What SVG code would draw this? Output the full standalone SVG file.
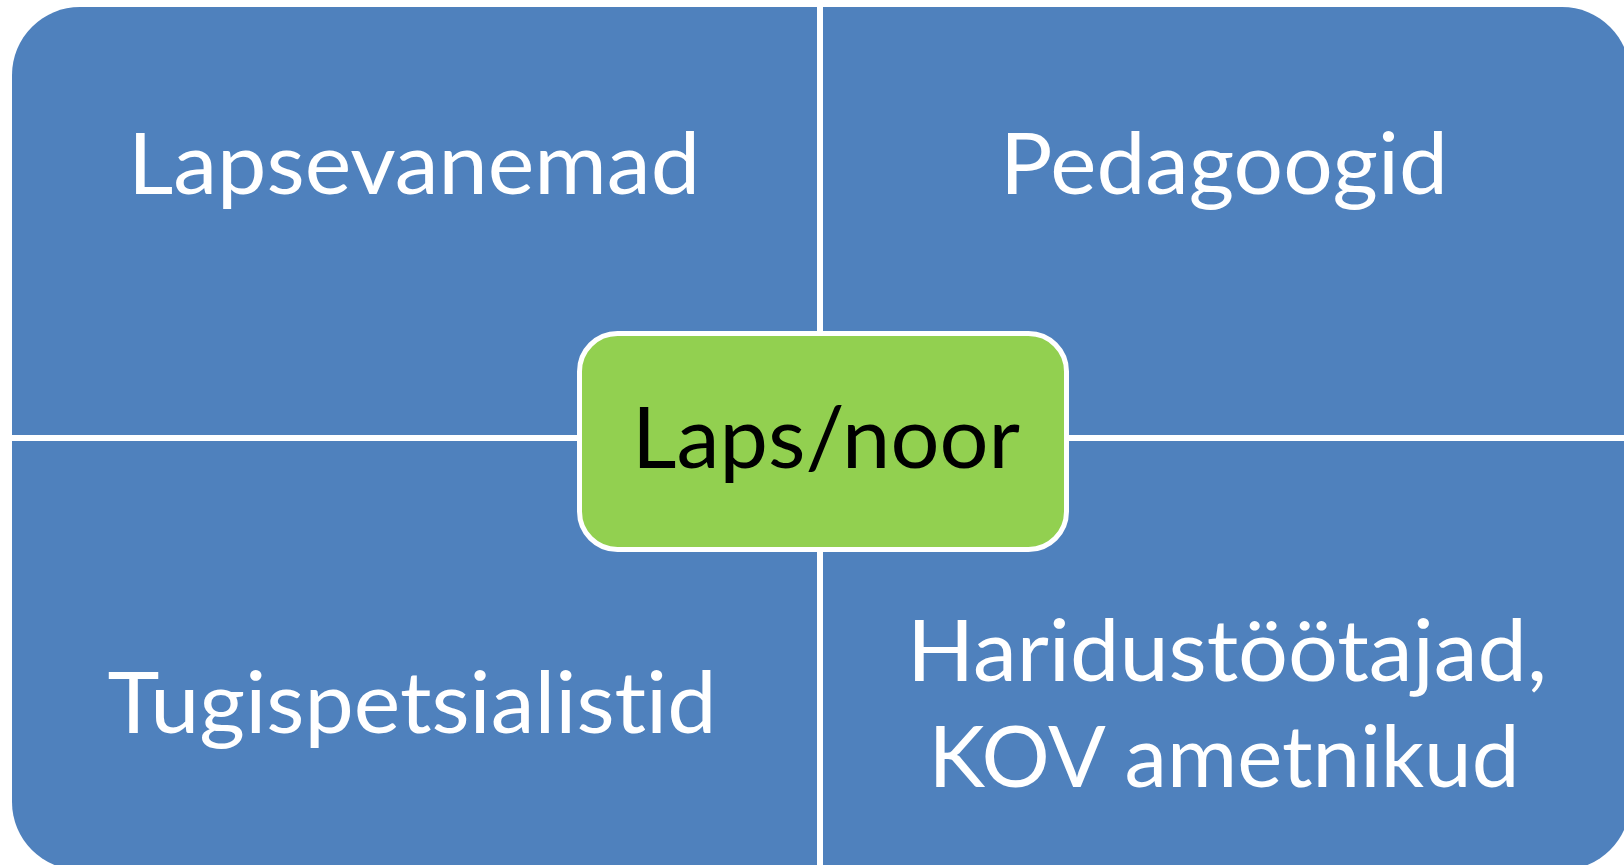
<svg xmlns="http://www.w3.org/2000/svg" width="1624" height="865" viewBox="0 0 1624 865">
<style>
.q{fill:#4F81BD}
.t{font-family:Lato,"Open Sans","Liberation Sans",sans-serif;font-size:86px;fill:#ffffff;text-anchor:middle;font-variant-ligatures:none;font-feature-settings:"liga" 0,"clig" 0,"dlig" 0}
.c{font-family:Lato,"Open Sans","Liberation Sans",sans-serif;font-size:86px;fill:#000000;text-anchor:middle;font-variant-ligatures:none}
</style>
<rect width="1624" height="865" fill="#ffffff"/>
<g id="lapsevanemad">
<path class="q" d="M12,435 V75 A68,68 0 0 1 80,7 H817 V435 Z"/>
<text class="t" x="414" y="194" textLength="572" lengthAdjust="spacingAndGlyphs">Lapsevanemad</text>
</g>
<g id="pedagoogid">
<path class="q" d="M823,7 H1562 A68,68 0 0 1 1630,75 V435 H823 Z"/>
<text class="t" x="1224" y="194" textLength="448" lengthAdjust="spacingAndGlyphs">Pedagoogid</text>
</g>
<g id="tugispetsialistid">
<path class="q" d="M12,441 H817 V870 H80 A68,68 0 0 1 12,802 Z"/>
<text class="t" x="412" y="733" textLength="609" lengthAdjust="spacingAndGlyphs">Tugispetsialistid</text>
</g>
<g id="haridustootajad">
<path class="q" d="M823,441 H1630 V802 A68,68 0 0 1 1562,870 H823 Z"/>
<text class="t" x="1227" y="681" textLength="640" lengthAdjust="spacingAndGlyphs">Haridustöötajad,</text>
<text class="t" x="1224" y="787" textLength="591" lengthAdjust="spacingAndGlyphs">KOV ametnikud</text>
</g>
<g id="laps-noor">
<rect x="579.5" y="333.5" width="487" height="216" rx="38" ry="38" fill="#92D050" stroke="#ffffff" stroke-width="5"/>
<text class="c" x="826" y="468" textLength="388" lengthAdjust="spacingAndGlyphs">Laps/noor</text>
</g>
</svg>
